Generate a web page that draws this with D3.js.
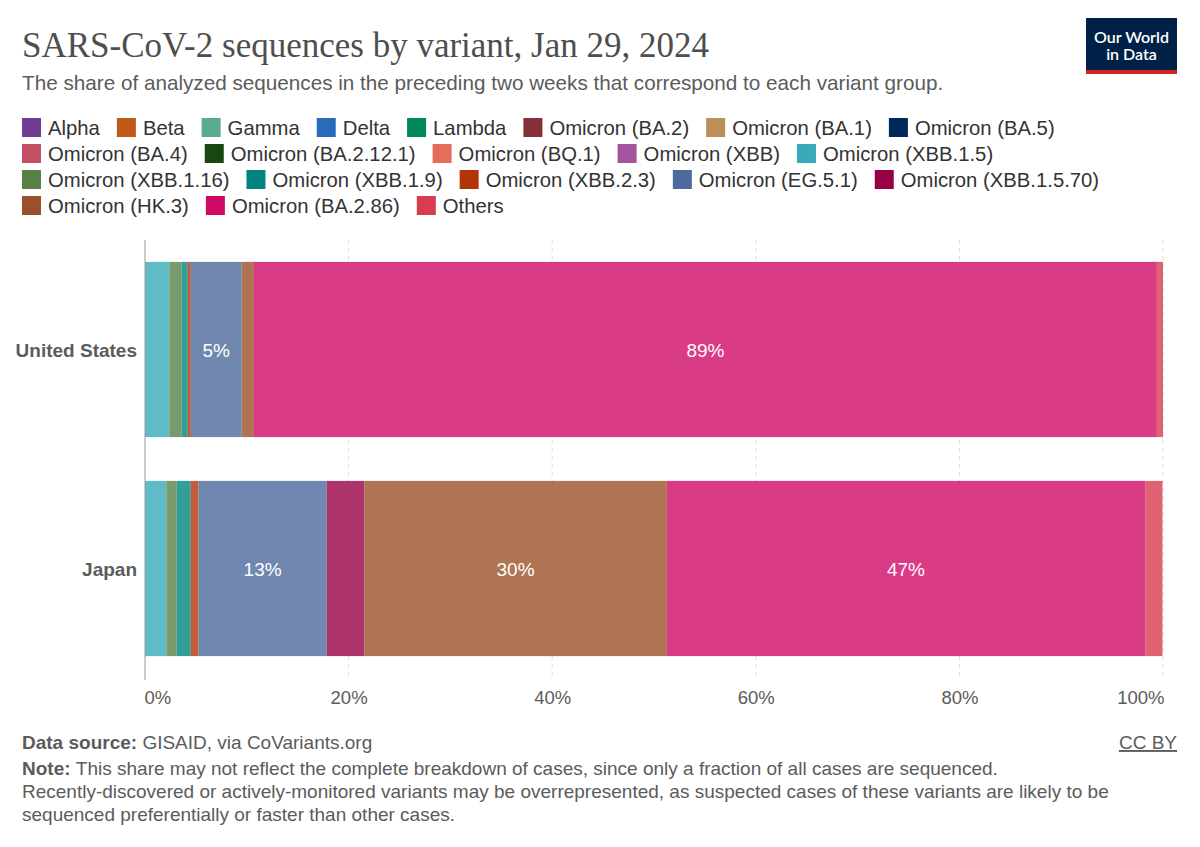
<!DOCTYPE html>
<html>
<head>
<meta charset="utf-8">
<script src="https://cdn.jsdelivr.net/npm/d3@7"></script>
<style>
  body { margin: 0; background: #fff; }
  svg { display: block; font-family: "Liberation Sans", Arial, sans-serif; }
</style>
</head>
<body>
<svg id="chart" width="1200" height="847"></svg>
<script>
// variants, in legend (and stacking) order
var variants = ["Alpha", "Beta", "Gamma", "Delta", "Lambda", "Omicron (BA.2)", "Omicron (BA.1)",
  "Omicron (BA.5)", "Omicron (BA.4)", "Omicron (BA.2.12.1)", "Omicron (BQ.1)", "Omicron (XBB)",
  "Omicron (XBB.1.5)", "Omicron (XBB.1.16)", "Omicron (XBB.1.9)", "Omicron (XBB.2.3)",
  "Omicron (EG.5.1)", "Omicron (XBB.1.5.70)", "Omicron (HK.3)", "Omicron (BA.2.86)", "Others"];

var variantColors = ["#6d3e91", "#c05917", "#58ac8c", "#286bbb", "#00875e", "#883039", "#bc8e5a",
  "#00295b", "#c15065", "#18470f", "#e56e5a", "#a2559c",
  "#38aaba", "#578145", "#00847e", "#b13507",
  "#4c6a9c", "#970046", "#9a5129", "#cf0a66", "#d73c50"];

var countries = ["United States", "Japan"];

// share of sequences (%), aligned with variants
var usShares =    [0, 0, 0, 0, 0, 0, 0, 0, 0, 0, 0, 0, 2.4, 1.2, 0.6, 0.3, 5.0, 0,   1.2, 88.7, 0.6];
var japanShares = [0, 0, 0, 0, 0, 0, 0, 0, 0, 0, 0, 0, 2.1, 1.0, 1.4, 0.75, 12.6, 3.7, 29.7, 47.0, 1.7];

var xTicks = [0, 20, 40, 60, 80, 100];

var svg = d3.select("#chart");
var textColor = "#5b5b5b";

// header
svg.append("text")
    .attr("x", 22).attr("y", 57)
    .style("font-family", "'Liberation Serif', serif")
    .style("font-size", "35px")
    .attr("fill", "#4e4e4e")
    .text("SARS-CoV-2 sequences by variant, Jan 29, 2024");

svg.append("text")
    .attr("x", 22).attr("y", 90)
    .style("font-size", "20.7px")
    .attr("fill", textColor)
    .text("The share of analyzed sequences in the preceding two weeks that correspond to each variant group.");

// logo
var logo = svg.append("g").attr("transform", "translate(1086,18)");
logo.append("rect").attr("width", 91).attr("height", 52).attr("fill", "#002147");
logo.append("rect").attr("y", 52).attr("width", 91).attr("height", 4).attr("fill", "#ce261e");
logo.append("text").attr("x", 45.5).attr("y", 25).attr("text-anchor", "middle")
    .attr("fill", "#fff").style("font-family", "Lato, sans-serif").style("font-size", "16px").style("font-weight", 600)
    .text("Our World");
logo.append("text").attr("x", 45.5).attr("y", 42).attr("text-anchor", "middle")
    .attr("fill", "#fff").style("font-family", "Lato, sans-serif").style("font-size", "16px").style("font-weight", 600)
    .text("in Data");

// legend, flowing left to right
var legend = svg.append("g");
var lx = 22, ly = 118, maxX = 1180;
variants.forEach(function(v, i) {
  var item = legend.append("g");
  item.append("rect").attr("width", 19).attr("height", 19).attr("fill", variantColors[i]);
  var t = item.append("text").attr("x", 26).attr("y", 16.5)
      .style("font-size", "20.3px").attr("fill", "#333").text(v);
  var w = 26 + t.node().getComputedTextLength();
  if (lx + w > maxX) { lx = 22; ly += 26; }
  item.attr("transform", "translate(" + lx + "," + ly + ")");
  lx += w + 17;
});

// scales
var x = d3.scaleLinear().domain([0, 100]).range([145, 1163]);
var y = d3.scaleBand().domain(countries).range([240, 678]).paddingInner(0.2).paddingOuter(0.1);

// grid
svg.append("g").selectAll("line")
    .data(xTicks.slice(1))
  .enter().append("line")
    .attr("x1", function(d) { return x(d); }).attr("x2", function(d) { return x(d); })
    .attr("y1", 240).attr("y2", 680)
    .attr("stroke", "#ddd").attr("stroke-dasharray", "4,4");

// stacked bars
var rows = countries.map(function(c, ci) {
  var shares = ci === 0 ? usShares : japanShares;
  var row = { country: c };
  variants.forEach(function(v, i) { row[v] = shares[i]; });
  return row;
});
var series = d3.stack().keys(variants)(rows);

var layer = svg.append("g").selectAll("g")
    .data(series)
  .enter().append("g")
    .attr("fill", function(d, i) { return variantColors[i]; })
    .attr("fill-opacity", 0.8);

layer.selectAll("rect")
    .data(function(d) { return d.filter(function(s) { return s[1] - s[0] > 0; }); })
  .enter().append("rect")
    .attr("x", function(d) { return x(d[0]); })
    .attr("width", function(d) { return x(d[1]) - x(d[0]); })
    .attr("y", function(d) { return y(d.data.country); })
    .attr("height", y.bandwidth());

layer.selectAll("text")
    .data(function(d) { return d.filter(function(s) { return s[1] - s[0] >= 4.5; }); })
  .enter().append("text")
    .attr("x", function(d) { return (x(d[0]) + x(d[1])) / 2; })
    .attr("y", function(d) { return y(d.data.country) + y.bandwidth() / 2 + 7; })
    .attr("text-anchor", "middle")
    .attr("fill", "#fff").attr("fill-opacity", 1)
    .style("font-size", "19px")
    .text(function(d) { return Math.round(d[1] - d[0]) + "%"; });

// y axis line + labels
svg.append("line")
    .attr("x1", 145).attr("x2", 145).attr("y1", 240).attr("y2", 680)
    .attr("stroke", "#999");

svg.append("g").selectAll("text")
    .data(countries)
  .enter().append("text")
    .attr("x", 137)
    .attr("y", function(d) { return y(d) + y.bandwidth() / 2 + 7; })
    .attr("text-anchor", "end")
    .style("font-size", "19px").style("font-weight", "bold")
    .attr("fill", textColor)
    .text(function(d) { return d; });

// x axis tick labels
var xAxis = svg.append("g")
    .attr("transform", "translate(0,683)")
    .call(d3.axisBottom(x).tickValues(xTicks).tickSize(0).tickPadding(8)
      .tickFormat(function(d) { return d + "%"; }));
xAxis.select(".domain").remove();
xAxis.selectAll("text")
    .style("font-family", "'Liberation Sans', Arial, sans-serif")
    .style("font-size", "18.5px").attr("fill", textColor)
    .attr("text-anchor", function(d) { return d === 0 ? "start" : d === 100 ? "end" : "middle"; })
    .attr("dx", function(d) { return d === 0 ? -1 : d === 100 ? 1 : 0; });

// footer
var foot = svg.append("g").style("font-size", "19px").attr("fill", textColor);
var src = foot.append("text").attr("x", 22).attr("y", 749);
src.append("tspan").style("font-weight", "bold").text("Data source: ");
src.append("tspan").text("GISAID, via CoVariants.org");

foot.append("text").attr("x", 1177).attr("y", 749).attr("text-anchor", "end")
    .style("text-decoration", "underline").text("CC BY");

var noteLines = [
  "This share may not reflect the complete breakdown of cases, since only a fraction of all cases are sequenced.",
  "Recently-discovered or actively-monitored variants may be overrepresented, as suspected cases of these variants are likely to be",
  "sequenced preferentially or faster than other cases."
];
noteLines.forEach(function(line, i) {
  var t = foot.append("text").attr("x", 22).attr("y", 775 + i * 23);
  if (i === 0) t.append("tspan").style("font-weight", "bold").text("Note: ");
  t.append("tspan").text(line);
});
</script>
</body>
</html>
